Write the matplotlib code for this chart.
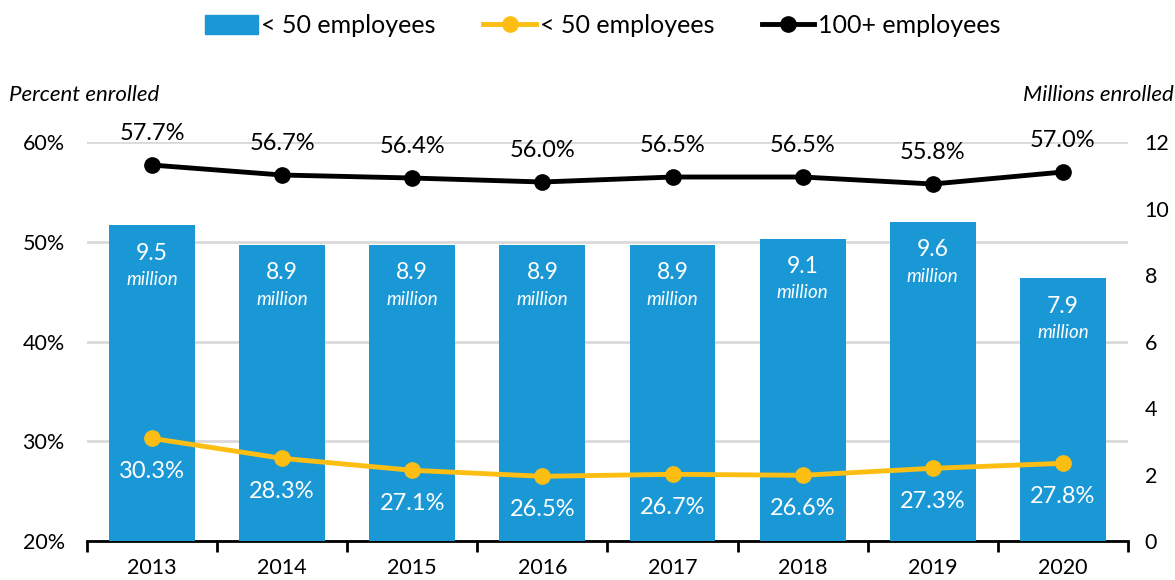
import matplotlib
matplotlib.use('Agg')
import matplotlib.pyplot as plt
from matplotlib.lines import Line2D
from matplotlib.patches import Patch

plt.rcParams['font.family'] = ['Lato', 'DejaVu Sans']

years = ['2013', '2014', '2015', '2016', '2017', '2018', '2019', '2020']
small_millions = [9.5, 8.9, 8.9, 8.9, 8.9, 9.1, 9.6, 7.9]
small_pct = [30.3, 28.3, 27.1, 26.5, 26.7, 26.6, 27.3, 27.8]
large_pct = [57.7, 56.7, 56.4, 56.0, 56.5, 56.5, 55.8, 57.0]

BLUE = '#1a98d5'
YELLOW = '#fdbe13'

fig = plt.figure(figsize=(11.75, 5.8), dpi=100)
ax = fig.add_axes([0.074, 0.067, 0.886, 0.688])

# percent axis with grid (bottom layer)
ax.set_ylim(20, 60)
ax.set_yticks([20, 30, 40, 50, 60])
ax.set_yticklabels([f'{v}%' for v in [20, 30, 40, 50, 60]])
ax.grid(axis='y', color='#d9d9d9', linewidth=2)
ax.set_axisbelow(True)
ax.tick_params(axis='y', length=0, pad=16, labelsize=15.5)

x = list(range(len(years)))
ax.set_xlim(-0.5, len(years) - 0.5)
ax.set_xticks(x)
ax.set_xticklabels(years)
ax.set_xticks([i - 0.5 for i in range(len(years) + 1)], minor=True)
ax.tick_params(axis='x', which='major', length=0, labelsize=15.5, pad=12)
ax.tick_params(axis='x', which='minor', length=8, width=2, color='black')
for s in ['left', 'right', 'top']:
    ax.spines[s].set_visible(False)
ax.spines['bottom'].set_linewidth(2)
ax.spines['bottom'].set_zorder(5)

# millions axis with bars
ax_bar = ax.twinx()
ax_bar.set_ylim(0, 12)
ax_bar.set_yticks(range(0, 13, 2))
ax_bar.tick_params(axis='y', length=0, pad=12, labelsize=15.5)
for s in ax_bar.spines.values():
    s.set_visible(False)
bars = ax_bar.bar(x, small_millions, width=0.66, color=BLUE, zorder=2)
for xi, v in zip(x, small_millions):
    ax_bar.annotate(f'{v:.1f}', (xi, v), xytext=(0, -20), textcoords='offset points',
                    ha='center', va='center', color='white', fontsize=16.5)
    ax_bar.annotate('million', (xi, v), xytext=(0, -39), textcoords='offset points',
                    ha='center', va='center', color='white', fontsize=13.5, style='italic')

# percent lines on top
ax_line = ax.twinx()
ax_line.set_ylim(20, 60)
ax_line.set_yticks([])
for s in ax_line.spines.values():
    s.set_visible(False)
ax_line.plot(x, small_pct, color=YELLOW, lw=3.5, marker='o', ms=11, clip_on=False, zorder=3)
ax_line.plot(x, large_pct, color='black', lw=3.5, marker='o', ms=11, clip_on=False, zorder=3)
for xi, v in zip(x, small_pct):
    ax_line.annotate(f'{v:.1f}%', (xi, v), xytext=(0, -24), textcoords='offset points',
                     ha='center', va='center', color='white', fontsize=17)
for xi, v in zip(x, large_pct):
    ax_line.annotate(f'{v:.1f}%', (xi, v), xytext=(0, 23), textcoords='offset points',
                     ha='center', va='center', color='black', fontsize=17)

fig.text(0.008, 0.836, 'Percent enrolled', fontsize=16, style='italic', ha='left', va='center')
fig.text(0.999, 0.836, 'Millions enrolled', fontsize=16, style='italic', ha='right', va='center')

handles = [
    Patch(color=BLUE),
    Line2D([], [], color=YELLOW, lw=3.5, marker='o', ms=11),
    Line2D([], [], color='black', lw=3.5, marker='o', ms=11),
]
labels = ['< 50 employees', '< 50 employees', '100+ employees']
fig.legend(handles, labels, loc='center', bbox_to_anchor=(0.513, 0.956), ncol=3,
           frameon=False, fontsize=18, handlelength=2.1, handletextpad=0.15,
           columnspacing=1.9, handleheight=0.8)

fig.savefig('out.png', dpi=100)
